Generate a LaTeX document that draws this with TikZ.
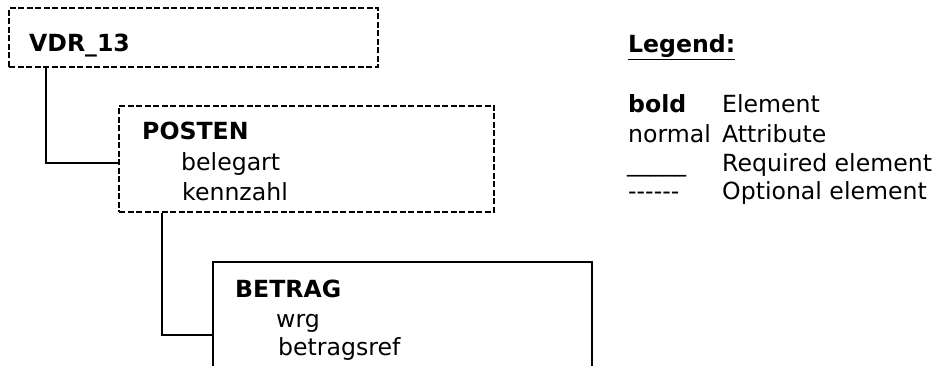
\documentclass[tikz,border=0pt]{standalone}
\usepackage{fontspec}
\setmainfont{DejaVu Sans}
\usepackage{tikz}
\newcommand\txtsize{\fontsize{23.6pt}{30pt}\selectfont}

\begin{document}
\begin{tikzpicture}[x=1pt,y=-1pt,
  every node/.style={font=\txtsize},
  reqbox/.style={draw, line width=2pt, anchor=north west, inner sep=0pt},
  optbox/.style={reqbox, line width=2pt, dash pattern=on 6pt off 2.5pt},
  label/.style={anchor=base west, inner sep=0pt},
  conn/.style={draw, line width=2pt}]
\useasboundingbox (0,0) rectangle (940,366);
\clip (0,0) rectangle (940,366);
\fill[white] (0,0) rectangle (940,366);
% Drawing boxes
% Box 1: VDR_13
\node[optbox, minimum width=369pt, minimum height=59pt] (vdr) at (8,7) {};
\node[label, font=\txtsize\bfseries] (vdrname) at (29,52) {VDR\_13};
% Box 2: POSTEN
\node[optbox, minimum width=375pt, minimum height=106pt] (posten) at (118,105) {};
\node[label, font=\txtsize\bfseries] (postenname) at (142,140) {POSTEN};
\node[label] (belegart) at (181,171) {belegart};
\node[label] (kennzahl) at (182,201) {kennzahl};
% Box 3: BETRAG
\node[reqbox, minimum width=379pt, minimum height=146pt] (betrag) at (212,261) {};
\node[label, font=\txtsize\bfseries] (betragname) at (235,297) {BETRAG};
\node[label] (wrg) at (276,327) {wrg};
\node[label] (betragsref) at (278,355) {betragsref};
% Done with boxes; drawing connectors
\draw[conn] ([xshift=38pt]vdr.south west) |- ([yshift=-4pt]posten.west);
\draw[conn] ([xshift=44pt]posten.south west) |- (betrag.west);
% Done with connectors; drawing legend
\node[label, font=\txtsize\bfseries] (legtitle) at (628,53) {\underline{Legend:}};
\node[label, font=\txtsize\bfseries] (legbold) at (628,113) {bold};
\node[label] (legelem) at (722,113) {Element};
\node[label] (legnormal) at (628,143) {normal};
\node[label] (legattr) at (722,143) {Attribute};
\node[label] (legline) at (627,172) {\_\_\_\_\_};
\node[label] (legreq) at (722,172) {Required element};
\node[label] (legdash) at (628,200) {-{}-{}-{}-{}-{}-};
\node[label] (legopt) at (722,200) {Optional element};
% Done with legend
\end{tikzpicture}
\end{document}
